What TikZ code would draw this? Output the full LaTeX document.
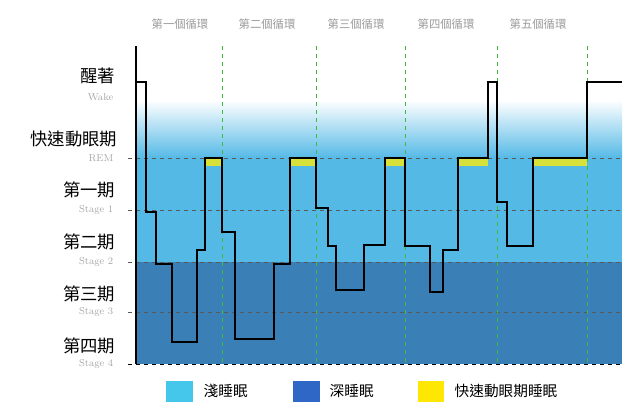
\documentclass[tikz,border=0pt]{standalone}
\usepackage{fontspec}
\newfontfamily\cjk{Noto Sans CJK TC}
\definecolor{light}{HTML}{55B9E6}
\definecolor{dark}{HTML}{3A80B6}
\definecolor{remy}{HTML}{D8E03A}
\definecolor{grn}{HTML}{3DBB3D}
\begin{document}
\begin{tikzpicture}[x=0.75pt,y=-0.75pt,
  stagelab/.style={anchor=east,font=\cjk\fontsize{13}{13}\selectfont},
  englab/.style={anchor=east,text=gray!70,font=\fontsize{7.5}{8}\selectfont},
  cyc/.style={text=gray!80,font=\cjk\fontsize{8.5}{9}\selectfont},
  grid/.style={gray!70!black,dashed,line width=0.6pt},
  cycline/.style={grn,dashed,line width=0.6pt},
  leg/.style={anchor=west,font=\cjk\fontsize{11}{11}\selectfont}]
\useasboundingbox (0,0) rectangle (640,418);
\fill[top color=white,bottom color=light] (136,100) rectangle (622,158);
\fill[light] (136,158) rectangle (622,262);
\fill[dark] (136,262) rectangle (622,364);
\foreach \a/\b in {205/222,290/316,385/405,458/488,533/587}
  \fill[remy] (\a,158) rectangle (\b,166);
\foreach \y in {158,210,262,312} \draw[grid] (128,\y) -- (622,\y);
\draw[black,dashed,line width=0.6pt] (128,364) -- (622,364);
\foreach \x in {222,316,405,497,587} \draw[cycline] (\x,46) -- (\x,364);
\draw[line width=0.8pt] (136,46) -- (136,364);
\draw[line width=1.2pt,line join=miter] (136,82) -- (146,82) -- (146,212) -- (156,212) -- (156,264) -- (172,264) -- (172,342) -- (197,342) -- (197,250) -- (205,250) -- (205,158) -- (222,158) -- (222,232) -- (235,232) -- (235,339) -- (274,339) -- (274,264) -- (290,264) -- (290,158) -- (316,158) -- (316,208) -- (328,208) -- (328,246) -- (336,246) -- (336,290) -- (364,290) -- (364,245) -- (385,245) -- (385,158) -- (405,158) -- (405,246) -- (430,246) -- (430,292) -- (443,292) -- (443,250) -- (458,250) -- (458,158) -- (488,158) -- (488,82) -- (497,82) -- (497,202) -- (507,202) -- (507,246) -- (533,246) -- (533,158) -- (587,158) -- (587,82) -- (622,82);
\node[stagelab] (l0) at (120,76) {醒著};
\node[englab] (e0) at (118,97) {Wake};
\node[stagelab] (l1) at (122,139) {快速動眼期};
\node[englab] (e1) at (118,158) {REM};
\node[stagelab] (l2) at (120,190) {第一期};
\node[englab] (e2) at (118,210) {Stage 1};
\node[stagelab] (l3) at (120,242) {第二期};
\node[englab] (e3) at (118,262) {Stage 2};
\node[stagelab] (l4) at (120,294) {第三期};
\node[englab] (e4) at (118,312) {Stage 3};
\node[stagelab] (l5) at (120,346) {第四期};
\node[englab] (e5) at (118,364) {Stage 4};
\node[cyc] (c1) at (180,24) {第一個循環};
\node[cyc] (c2) at (267,24) {第二個循環};
\node[cyc] (c3) at (356,24) {第三個循環};
\node[cyc] (c4) at (446,24) {第四個循環};
\node[cyc] (c5) at (538,24) {第五個循環};
\fill[light!80!cyan] (166,381) rectangle (193,402);
\node[leg] (t1) at (199,391) {淺睡眠};
\fill[dark!80!blue] (293,381) rectangle (320,402);
\node[leg] (t2) at (325,391) {深睡眠};
\fill[yellow!90!orange] (418,381) rectangle (444,402);
\node[leg] (t3) at (450,391) {快速動眼期睡眠};
\end{tikzpicture}
\end{document}
